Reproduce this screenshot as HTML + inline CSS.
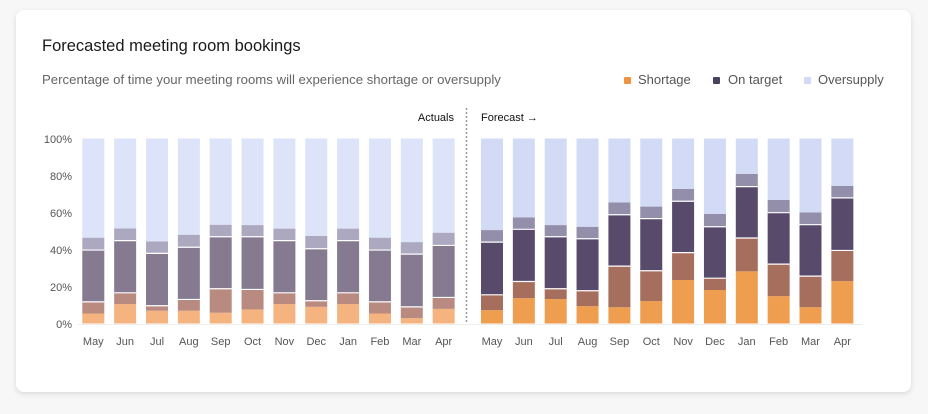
<!DOCTYPE html>
<html><head><meta charset="utf-8"><style>
body{margin:0;width:928px;height:414px;background:#f7f7f8;font-family:"Liberation Sans",sans-serif;overflow:hidden}
.card{position:absolute;left:16px;top:10px;width:895px;height:382px;background:#fff;border-radius:8px;box-shadow:0 2px 6px rgba(0,0,0,0.12)}
.title{position:absolute;left:42px;top:37px;font-size:16.5px;color:#1a1a1a}
.sub{position:absolute;left:42px;top:72px;font-size:13.2px;color:#666}
.legend{position:absolute;top:72px;font-size:13px;color:#555}
.sw{position:absolute;top:77px;width:7px;height:7px;border-radius:1px}
svg{position:absolute;left:0;top:0}
</style></head><body>
<div class="card"></div>
<div class="title">Forecasted meeting room bookings</div>
<div class="sub">Percentage of time your meeting rooms will experience shortage or oversupply</div>
<div class="sw" style="left:624px;background:#ef9340"></div>
<div class="legend" style="left:638px">Shortage</div>
<div class="sw" style="left:713px;background:#4a4160"></div>
<div class="legend" style="left:728px">On target</div>
<div class="sw" style="left:804px;background:#d3daf5"></div>
<div class="legend" style="left:818px">Oversupply</div>
<svg width="928" height="414" id="chart"></svg>
<script>
const months=["May","Jun","Jul","Aug","Sep","Oct","Nov","Dec","Jan","Feb","Mar","Apr"];
const yTicks=[0,20,40,60,80,100];
// cumulative boundaries (%): top of shortage-only, top of shortage/on-target overlap, top of on-target, top of on-target/oversupply overlap
const actualShortTop=[5.4,10.5,6.9,6.9,5.8,7.6,10.5,9.0,10.5,5.4,2.9,7.9];
const actualOverlapLowTop=[11.7,16.6,9.6,13.0,18.8,18.4,16.6,12.3,16.6,11.7,9.0,14.1];
const actualOnTargetTop=[39.7,44.8,37.9,41.2,46.9,46.9,44.8,40.4,44.8,39.7,37.5,42.2];
const actualOverlapHighTop=[46.4,51.4,44.4,48.0,53.4,53.2,51.3,47.3,51.3,46.4,44.0,49.1];
const fcShortTop=[7.2,13.7,13.2,9.4,8.8,12.1,23.5,18.1,28.2,14.8,8.8,22.9];
const fcOverlapLowTop=[15.5,22.7,18.8,17.7,31.0,28.5,38.3,24.5,46.2,32.1,25.6,39.5];
const fcOnTargetTop=[44.0,50.9,46.9,45.8,58.8,56.7,66.1,52.3,74.0,59.9,53.4,67.9];
const fcOverlapHighTop=[50.5,57.4,53.2,52.3,65.5,63.2,72.7,59.2,80.9,66.8,60.1,74.4];

const svg=document.getElementById('chart');const NS='http://www.w3.org/2000/svg';
const y0=323.5,y100=138.5;
function y(v){return y0-(y0-y100)*v/100;}
function xA(i){return 82.3+i*31.85;}
function xF(i){return 481+i*31.85;}
const bw=22;
function mk(t,a){const e=document.createElementNS(NS,t);for(const k in a)e.setAttribute(k,a[k]);svg.appendChild(e);return e;}
yTicks.forEach(t=>{const e=mk('text',{x:72,y:y(t)+4.5,'text-anchor':'end','font-size':11,fill:'#555'});e.textContent=t+'%';

});
const ax=mk('line',{x1:78,x2:862,y1:324.5,y2:324.5,stroke:'#eee','stroke-width':1});


const dv=mk('line',{x1:466.5,x2:466.5,y1:108,y2:324,stroke:'#999','stroke-width':1.5,'stroke-dasharray':'2,2'});


const la=mk('text',{x:454,y:121,'text-anchor':'end','font-size':11,fill:'#111'});la.textContent='Actuals';


const lf=mk('text',{x:481,y:121,'font-size':11,fill:'#111'});lf.textContent='Forecast →';


function bars(xf,b1,b2,b3,b4,cols,pre){
 months.forEach((m,i)=>{const x=xf(i);const b=[0,b1[i],b2[i],b3[i],b4[i],100];
  for(let s=0;s<5;s++){const r=mk('rect',{x:x,y:y(b[s+1]),width:bw,height:Math.max(0,y(b[s])-y(b[s+1])),fill:cols[s]});
   
   }
  [b2[i],b3[i]].forEach(v=>{mk('line',{x1:x,x2:x+bw,y1:y(v),y2:y(v),stroke:'#fff','stroke-width':1.2});});
  const t=mk('text',{x:x+bw/2,y:345,'text-anchor':'middle','font-size':11,fill:'#555'});t.textContent=m;
  
  
 });}
bars(xA,actualShortTop,actualOverlapLowTop,actualOnTargetTop,actualOverlapHighTop,['#f4b37f','#b98b80','#857a90','#aba8c0','#dde3f8'],'actual');
bars(xF,fcShortTop,fcOverlapLowTop,fcOnTargetTop,fcOverlapHighTop,['#ef9d4f','#a66e5c','#574a6b','#938fab','#d3daf5'],'forecast');
</script>
</body></html>
